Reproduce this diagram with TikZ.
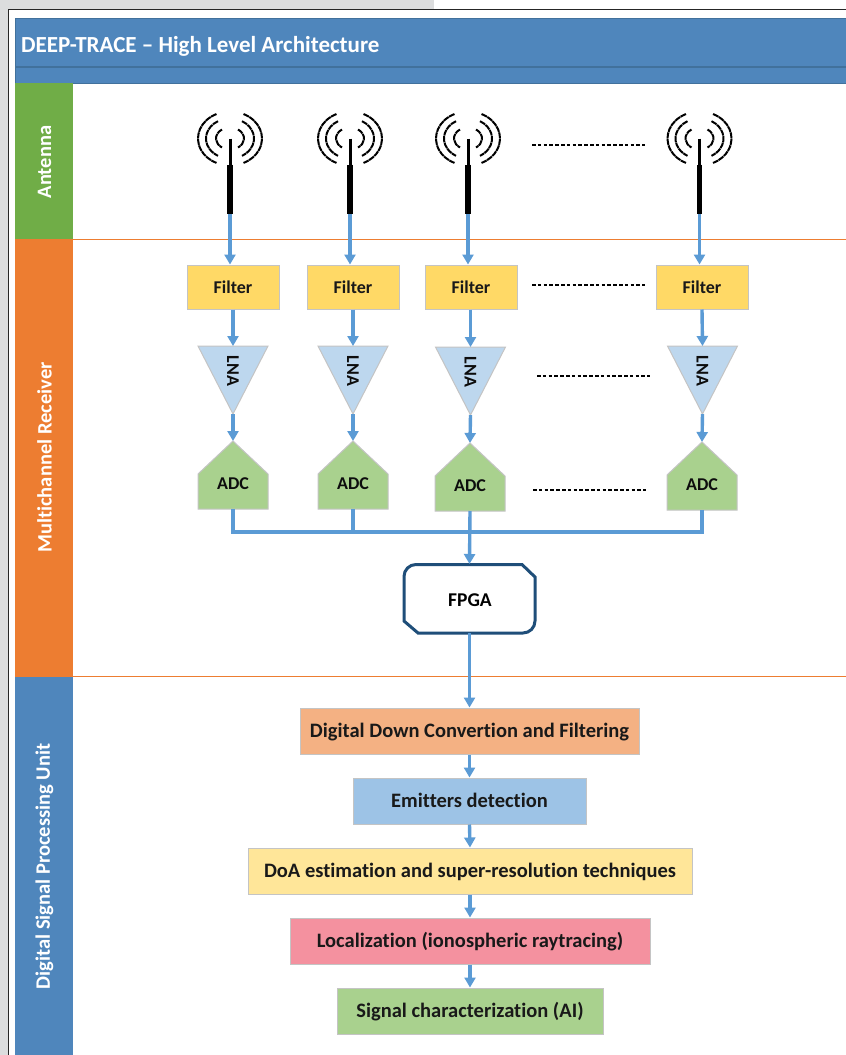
\documentclass[tikz,border=0pt]{standalone}
\usepackage{fontspec}
\setmainfont[Ligatures=NoCommon]{Carlito}
\usetikzlibrary{arrows.meta}
\definecolor{pagegray}{HTML}{DCDDDE}
\definecolor{headblue}{HTML}{4F86BC}
\definecolor{headline}{HTML}{41719C}
\definecolor{sidegreen}{HTML}{70AD47}
\definecolor{sideorange}{HTML}{ED7D31}
\definecolor{flow}{HTML}{5B9BD5}
\definecolor{filterfill}{HTML}{FFD966}
\definecolor{lnafill}{HTML}{BDD7EE}
\definecolor{adcfill}{HTML}{A9D18E}
\definecolor{fpgaline}{HTML}{1F4E79}
\definecolor{ddcfill}{HTML}{F4B183}
\definecolor{emitfill}{HTML}{9DC3E6}
\definecolor{doafill}{HTML}{FFE699}
\definecolor{locfill}{HTML}{F4919F}
\definecolor{sigfill}{HTML}{A9D18E}
\definecolor{softborder}{HTML}{C4C4C4}
\newcommand{\proctext}[1]{\raisebox{-6.5pt}[0pt][0pt]{#1}}
\tikzset{
  x=1pt,y=-1pt,
  flowline/.style={draw=flow,line width=3.4pt},
  flowarrow/.style={flowline,-{Triangle[width=11pt,length=10pt]}},
  sidelabel/.style={text=white,font=\bfseries\fontsize{20.5}{22}\selectfont,rotate=90,inner sep=0pt},
  blocktext/.style={text=black!95,font=\bfseries\fontsize{18}{20}\selectfont,inner sep=0pt},
  filterbox/.style={draw=softborder,fill=filterfill,line width=1pt,minimum width=92pt,minimum height=44pt,inner sep=0pt,text=black!90,font=\bfseries\fontsize{18}{20}\selectfont},
  procbox/.style={draw=softborder,line width=1pt,minimum height=46pt,inner sep=0pt,text=black!90,font=\bfseries\fontsize{20.5}{22}\selectfont},
  shapeborder/.style={draw=softborder,line width=1pt},
  dotrow/.style={draw=black,line width=2.2pt,dash pattern=on 3.6pt off 2.2pt},
  wave/.style={draw=black,line width=2pt,dash pattern=on 6pt off .6pt},
}
\newcommand{\antennaicon}[1]{%
  \begin{scope}[shift={(#1,138.5)}]
    \draw[wave] (115:32pt and 27pt) arc[start angle=115,delta angle=130,x radius=32pt,y radius=27pt];
    \draw[wave] (65:32pt and 27pt) arc[start angle=65,delta angle=-130,x radius=32pt,y radius=27pt];
    \draw[wave] (120:24pt and 20pt) arc[start angle=120,delta angle=120,x radius=24pt,y radius=20pt];
    \draw[wave] (60:24pt and 20pt) arc[start angle=60,delta angle=-120,x radius=24pt,y radius=20pt];
    \draw[wave] (125:14pt and 11pt) arc[start angle=125,delta angle=110,x radius=14pt,y radius=11pt];
    \draw[wave] (55:14pt and 11pt) arc[start angle=55,delta angle=-110,x radius=14pt,y radius=11pt];
    \draw[black,line width=3pt] (0,0) -- (0,27);
    \draw[black,line width=5.5pt] (0,26) -- (0,75.5);
  \end{scope}}
% #1 name, #2 centre x, #3 top y
\newcommand{\lnashape}[3]{%
  \path[shapeborder,fill=lnafill] (#2-35,#3) -- (#2+35,#3) -- (#2,#3+68) -- cycle;
  \coordinate (#1in) at (#2,#3);
  \coordinate (#1out) at (#2,#3+68);
  \node[blocktext,rotate=-90] (#1) at (#2,#3+25) {LNA};}
% #1 name, #2 centre x, #3 apex y
\newcommand{\adcshape}[3]{%
  \path[shapeborder,fill=adcfill] (#2,#3) -- (#2+35,#3+33) -- (#2+35,#3+68) -- (#2-35,#3+68) -- (#2-35,#3+33) -- cycle;
  \coordinate (#1in) at (#2,#3);
  \coordinate (#1out) at (#2,#3+68);
  \node[blocktext] (#1) at (#2,#3+42.5) {ADC};}
\begin{document}
\begin{tikzpicture}
\useasboundingbox (0,0) rectangle (846,1055);
% page surround
\fill[pagegray] (0,0) rectangle (846,1055);
\fill[white] (434,0) rectangle (846,9);
\fill[white] (8,9) rectangle (846,1055);
\draw[black!85,line width=1pt] (8,1055) -- (8,9.5) -- (846,9.5);
% header
\fill[headblue] (15,18) rectangle (846,83);
\draw[headline,line width=1pt] (15,18.5) -- (846,18.5);
\draw[headline,line width=1.5pt] (15,67) -- (846,67);
\draw[headline,line width=1pt] (15,83) -- (846,83);
\draw[headline,line width=.6pt] (15,18) -- (15,83);
\node[anchor=west,text=white,inner sep=0pt,font=\bfseries\fontsize{23}{25}\selectfont] (title) at (21,46) {DEEP-TRACE – High Level Architecture};
% swimlanes
\fill[sidegreen] (15,83) rectangle (73,239);
\fill[sideorange] (15,239) rectangle (73,677);
\fill[headblue] (15,677) rectangle (73,1055);
\draw[sideorange,line width=1pt] (15,239.5) -- (846,239.5);
\draw[sideorange,line width=1pt] (15,676.5) -- (846,676.5);
\node[sidelabel] (lanea) at (44.5,162) {Antenna};
\node[sidelabel] (laneb) at (44.5,457.5) {Multichannel Receiver};
\node[sidelabel] (lanec) at (44.5,866.5) {Digital Signal Processing Unit};
% filters
\node[filterbox] (f1) at (233,287) {Filter};
\node[filterbox] (f2) at (353,287) {Filter};
\node[filterbox] (f3) at (471,287) {Filter};
\node[filterbox] (f4) at (702,287) {Filter};
% amplifiers
\lnashape{l1}{233}{346}
\lnashape{l2}{353}{346}
\lnashape{l3}{470.5}{347}
\lnashape{l4}{702.5}{346}
% converters
\adcshape{c1}{233}{441}
\adcshape{c2}{353}{441}
\adcshape{c3}{470}{443}
\adcshape{c4}{702}{442}
% FPGA
\draw[fpgaline,fill=white,line width=3pt] (470,564.5) -- (522,564.5) -- (535,577) [rounded corners=12pt] -- (535,633) [sharp corners] -- (418,633) -- (404,621) [rounded corners=12pt] -- (404,564.5) [sharp corners] -- cycle;
\node[inner sep=0pt,text=black,font=\bfseries\fontsize{19.5}{21}\selectfont] (fpga) at (470,600) {FPGA};
\coordinate (fpgain) at (469.5,564);
\coordinate (fpgaout) at (469.5,633);
% processing chain
\node[procbox,fill=ddcfill,minimum width=339pt] (p1) at (469.5,731) {\proctext{Digital Down Convertion and Filtering}};
\node[procbox,fill=emitfill,minimum width=233pt] (p2) at (469.5,801) {\proctext{Emitters detection}};
\node[procbox,fill=doafill,minimum width=444pt] (p3) at (470,871) {\proctext{DoA estimation and super-resolution techniques}};
\node[procbox,fill=locfill,minimum width=360pt] (p4) at (470,941) {\proctext{Localization (ionospheric raytracing)}};
\node[procbox,fill=sigfill,minimum width=266pt] (p5) at (470,1011) {\proctext{Signal characterization (AI)}};
% antennas
\antennaicon{230}
\antennaicon{350}
\antennaicon{468}
\antennaicon{699.5}
\coordinate (a1) at (230,214);
\coordinate (a2) at (350,214);
\coordinate (a3) at (468,214);
\coordinate (a4) at (699.5,214);
% antenna to filter
\draw[flowarrow] (a1) -- (a1 |- f1.north);
\draw[flowarrow] (a2) -- (a2 |- f2.north);
\draw[flowarrow] (a3) -- (a3 |- f3.north);
\draw[flowarrow] (a4) -- (a4 |- f4.north);
% filter to LNA
\draw[flowarrow] (f1.south) -- (l1in);
\draw[flowarrow] (f2.south) -- (l2in);
\draw[flowarrow] (f3.south -| l3in) -- (l3in);
\draw[flowarrow] (f4.south) -- (l4in);
% LNA to ADC
\draw[flowarrow] (l1out) -- (c1in);
\draw[flowarrow] (l2out) -- (c2in);
\draw[flowarrow] (l3out) -- (c3in);
\draw[flowarrow] (l4out) -- (c4in);
% bus
\coordinate (busl) at (233,532);
\coordinate (busr) at (702,532);
\draw[flowline,line join=miter] (c1out) -- (busl) -- (busr) -- (c4out);
\draw[flowline] (c2out) -- (c2out |- busl);
\draw[flowarrow] (c3out) -- (fpgain);
% chain
\draw[flowarrow] (fpgaout) -- (p1.north);
\draw[flowarrow] (p1.south) -- (p2.north);
\draw[flowarrow] (p2.south) -- (p3.north);
\draw[flowarrow] (p3.south) -- (p4.north);
\draw[flowarrow] (p4.south) -- (p5.north);
% continuation marks
\coordinate (d1a) at (532,145); \coordinate (d1b) at (645,145);
\coordinate (d2a) at (532,285); \coordinate (d2b) at (645,285);
\coordinate (d3a) at (537,376); \coordinate (d3b) at (650,376);
\coordinate (d4a) at (533,490); \coordinate (d4b) at (646,490);
\draw[dotrow] (d1a) -- (d1b);
\draw[dotrow] (d2a) -- (d2b);
\draw[dotrow] (d3a) -- (d3b);
\draw[dotrow] (d4a) -- (d4b);
\end{tikzpicture}
\end{document}
